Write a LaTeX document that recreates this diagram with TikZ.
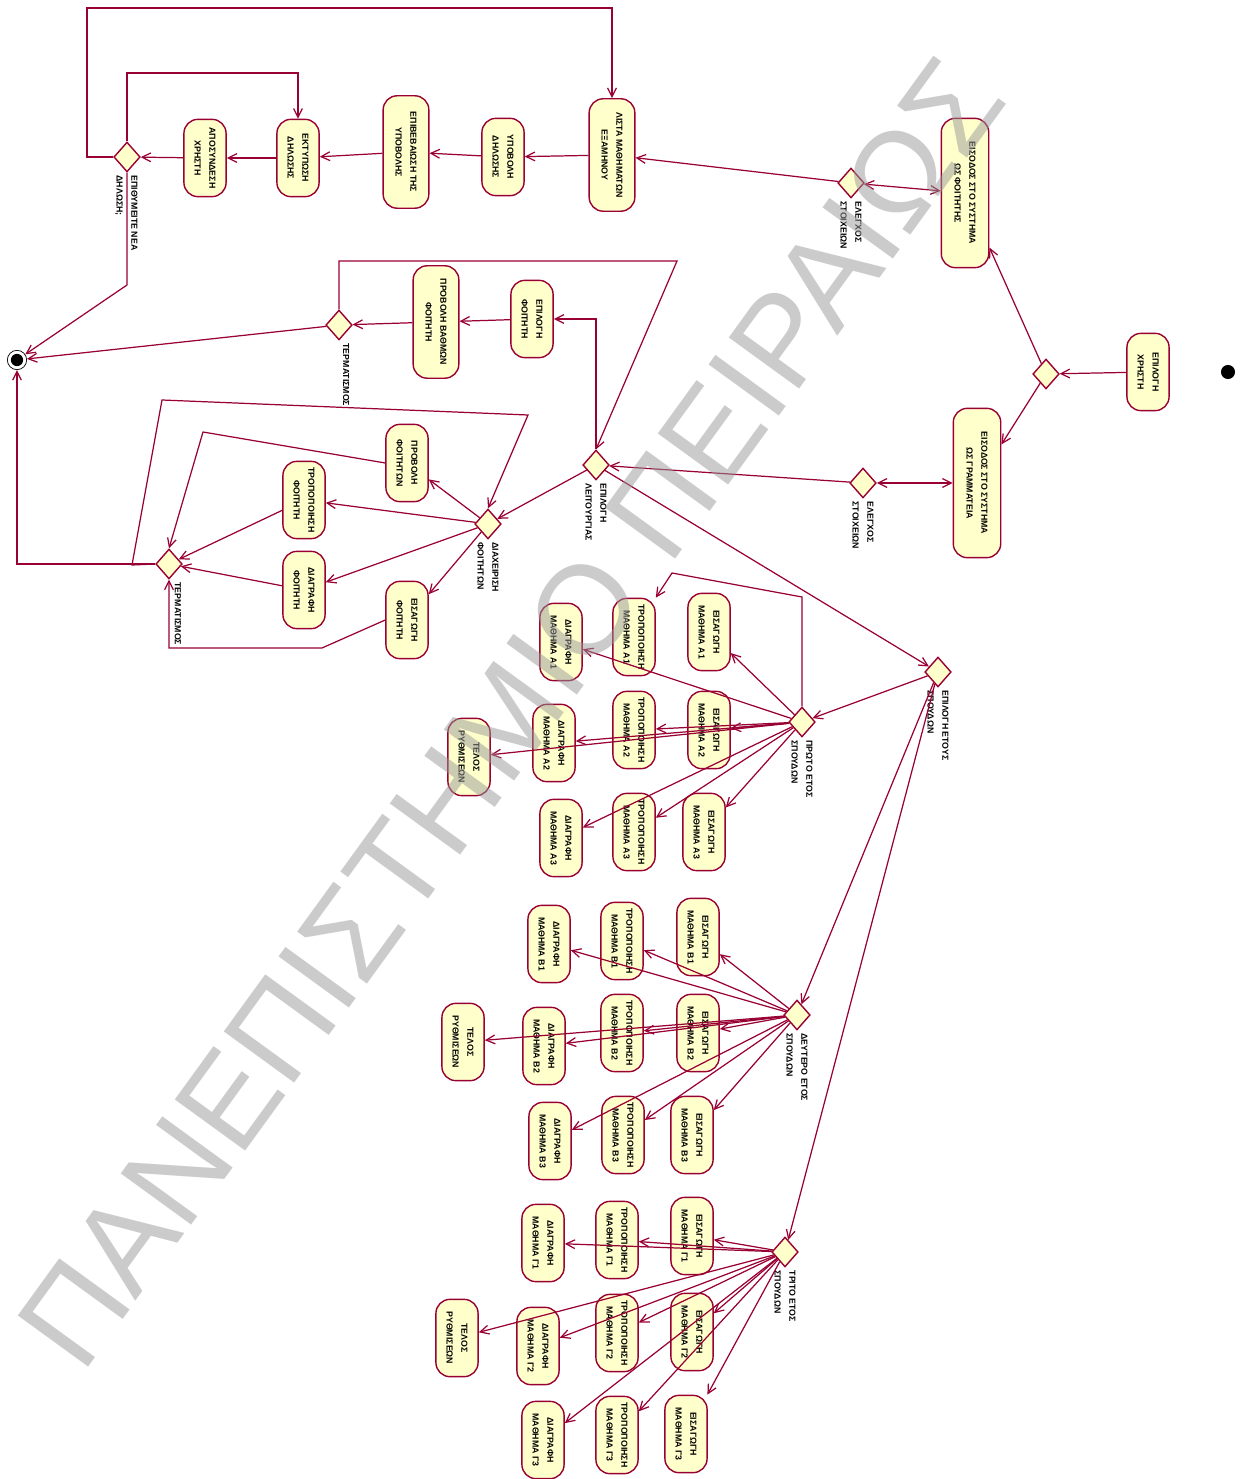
\documentclass[tikz,border=0pt]{standalone}
\usepackage{fontspec}
\setmainfont{Liberation Sans}
\usepackage{graphicx}
\usetikzlibrary{shapes.geometric,arrows.meta,positioning}

\definecolor{rodo}{RGB}{153,0,51}
\definecolor{kitrino}{RGB}{255,255,204}

% κείμενο δύο γραμμών, στραμμένο κατά -90 μοίρες
\newcommand{\vtext}[3][c]{\rotatebox{-90}{\begin{tabular}{@{}#1@{}}#2\\#3\end{tabular}}}
\newcommand{\mia}[1]{\rotatebox{-90}{#1}}

\begin{document}
\begin{tikzpicture}[x=0.02cm, y=-0.02cm, >={Straight Barb[length=5pt,width=5pt]},
    energeia/.style={draw=rodo, fill=kitrino, line width=0.8pt, rounded corners=8pt,
      minimum width=24pt, minimum height=44pt, inner sep=0pt,
      font=\fontsize{5}{8.5}\selectfont\bfseries},
    psili/.style={energeia, minimum width=26pt, minimum height=64pt},
    megali/.style={energeia, minimum width=27pt, minimum height=85pt},
    apofasi/.style={diamond, draw=rodo, fill=kitrino, line width=0.8pt,
      minimum width=15pt, minimum height=17pt, inner sep=0pt},
    etiketa/.style={inner sep=0.5pt, font=\fontsize{5}{8.5}\selectfont\bfseries},
    roi/.style={draw=rodo, line width=0.7pt, ->}]

    \fill[white] (0,0) rectangle (1251,1479);
    \useasboundingbox (0,0) rectangle (1251,1479);

    % 1. Αρχή, τέλος και επιλογή χρήστη
    \node[circle, fill=black, minimum size=8pt, inner sep=0pt] (arxi) at (1228,372) {};
    \node[circle, draw=black, fill=white, minimum size=11pt, inner sep=0pt] (telos) at (17,360) {};
    \node[circle, fill=black, minimum size=7pt, inner sep=0pt] (telos-k) at (telos) {};
    \node[energeia] (xristis) at (1148,372) {\vtext{ΕΠΙΛΟΓΗ}{ΧΡΗΣΤΗ}};
    \node[apofasi] (dxr) at (1046,374) {};
    \node[megali] (eisfoit) at (965,193) {\vtext{ΕΙΣΟΔΟΣ ΣΤΟ ΣΥΣΤΗΜΑ}{ΩΣ ΦΟΙΤΗΤΗΣ}};
    \node[megali] (eiskath) at (977,483) {\vtext{ΕΙΣΟΔΟΣ ΣΤΟ ΣΥΣΤΗΜΑ}{ΩΣ ΓΡΑΜΜΑΤΕΙΑ}};
    \node[apofasi] (dchk1) at (851,183) {};
    \node[etiketa, below=1pt of dchk1] (dchk1-e) {\vtext[l]{ΕΛΕΓΧΟΣ}{ΣΤΟΙΧΕΙΩΝ}};
    \node[apofasi] (dchk2) at (863,483) {};
    \node[etiketa, below=1pt of dchk2] (dchk2-e) {\vtext[l]{ΕΛΕΓΧΟΣ}{ΣΤΟΙΧΕΙΩΝ}};

    % 2. Δήλωση μαθημάτων
    \node[psili] (epilmath) at (612,155) {\vtext{ΛΙΣΤΑ ΜΑΘΗΜΑΤΩΝ}{ΕΞΑΜΗΝΟΥ}};
    \node[energeia] (ypovoli) at (503,157) {\vtext{ΥΠΟΒΟΛΗ}{ΔΗΛΩΣΗΣ}};
    \node[psili] (epivev) at (406,152) {\vtext{ΕΠΙΒΕΒΑΙΩΣΗ ΤΗΣ}{ΥΠΟΒΟΛΗΣ}};
    \node[energeia] (ektyp) at (298,158) {\vtext{ΕΚΤΥΠΩΣΗ}{ΔΗΛΩΣΗΣ}};
    \node[energeia] (aposyn) at (205,158) {\vtext{ΑΠΟΣΥΝΔΕΣΗ}{ΧΡΗΣΤΗ}};
    \node[apofasi] (dnea) at (127,157) {};
    \node[etiketa, below=1pt of dnea] (dnea-e) {\vtext[l]{ΕΠΙΘΥΜΕΙΤΕ ΝΕΑ}{ΔΗΛΩΣΗ;}};

    % 3. Βαθμολογία και διαχείριση φοιτητών
    \node[energeia] (epilfoit) at (532,319) {\vtext{ΕΠΙΛΟΓΗ}{ΦΟΙΤΗΤΗ}};
    \node[psili] (provathm) at (436,322) {\vtext{ΠΡΟΒΟΛΗ ΒΑΘΜΩΝ}{ΦΟΙΤΗΤΗ}};
    \node[apofasi] (dtel1) at (339,325) {};
    \node[etiketa, below=1pt of dtel1, xshift=4pt] (dtel1-e) {\mia{ΤΕΡΜΑΤΙΣΜΟΣ}};
    \node[apofasi] (dleit) at (596,465) {};
    \node[etiketa, below=1pt of dleit] (dleit-e) {\vtext[l]{ΕΠΙΛΟΓΗ}{ΛΕΙΤΟΥΡΓΙΑΣ}};
    \node[apofasi] (dfoit) at (488,524) {};
    \node[etiketa, below=1pt of dfoit] (dfoit-e) {\vtext[l]{ΔΙΑΧΕΙΡΙΣΗ}{ΦΟΙΤΗΤΩΝ}};
    \node[energeia] (provfoit) at (407,463) {\vtext{ΠΡΟΒΟΛΗ}{ΦΟΙΤΗΤΩΝ}};
    \node[energeia] (tropfoit) at (304,500) {\vtext{ΤΡΟΠΟΠΟΙΗΣΗ}{ΦΟΙΤΗΤΗ}};
    \node[energeia] (diagfoit) at (304,590) {\vtext{ΔΙΑΓΡΑΦΗ}{ΦΟΙΤΗΤΗ}};
    \node[energeia] (eisagfoit) at (407,620) {\vtext{ΕΙΣΑΓΩΓΗ}{ΦΟΙΤΗΤΗ}};
    \node[apofasi] (dtel2) at (169,564) {};
    \node[etiketa, below=1pt of dtel2, xshift=5pt] (dtel2-e) {\mia{ΤΕΡΜΑΤΙΣΜΟΣ}};

    % 4. Μαθήματα ανά έτος σπουδών
    \node[apofasi] (detos) at (938,672) {};
    \node[etiketa, below=1pt of detos] (detos-e) {\vtext[l]{ΕΠΙΛΟΓΗ ΕΤΟΥΣ}{ΣΠΟΥΔΩΝ}};
    \node[apofasi] (dA) at (802,722) {};
    \node[etiketa, below=1pt of dA] (dA-e) {\vtext[l]{ΠΡΩΤΟ ΕΤΟΣ}{ΣΠΟΥΔΩΝ}};
    \node[apofasi] (dB) at (797,1015) {};
    \node[etiketa, below=1pt of dB] (dB-e) {\vtext[l]{ΔΕΥΤΕΡΟ ΕΤΟΣ}{ΣΠΟΥΔΩΝ}};
    \node[apofasi] (dC) at (785,1252) {};
    \node[etiketa, below=1pt of dC] (dC-e) {\vtext[l]{ΤΡΙΤΟ ΕΤΟΣ}{ΣΠΟΥΔΩΝ}};

    % πρώτο έτος
    \node[energeia] (aeis1) at (709,632) {\vtext{ΕΙΣΑΓΩΓΗ}{ΜΑΘΗΜΑ Α1}};
    \node[energeia] (atrop1) at (634,637) {\vtext{ΤΡΟΠΟΠΟΙΗΣΗ}{ΜΑΘΗΜΑ Α1}};
    \node[energeia] (adiag1) at (561,642) {\vtext{ΔΙΑΓΡΑΦΗ}{ΜΑΘΗΜΑ Α1}};
    \node[energeia] (aeis2) at (709,730) {\vtext{ΕΙΣΑΓΩΓΗ}{ΜΑΘΗΜΑ Α2}};
    \node[energeia] (atrop2) at (634,730) {\vtext{ΤΡΟΠΟΠΟΙΗΣΗ}{ΜΑΘΗΜΑ Α2}};
    \node[energeia] (adiag2) at (554,743) {\vtext{ΔΙΑΓΡΑΦΗ}{ΜΑΘΗΜΑ Α2}};
    \node[energeia] (alixi) at (469,757) {\vtext{ΤΕΛΟΣ}{ΡΥΘΜΙΣΕΩΝ}};
    \node[energeia] (aeis3) at (704,832) {\vtext{ΕΙΣΑΓΩΓΗ}{ΜΑΘΗΜΑ Α3}};
    \node[energeia] (atrop3) at (634,832) {\vtext{ΤΡΟΠΟΠΟΙΗΣΗ}{ΜΑΘΗΜΑ Α3}};
    \node[energeia] (adiag3) at (561,838) {\vtext{ΔΙΑΓΡΑΦΗ}{ΜΑΘΗΜΑ Α3}};

    % δεύτερο έτος
    \node[energeia] (beis1) at (698,937) {\vtext{ΕΙΣΑΓΩΓΗ}{ΜΑΘΗΜΑ Β1}};
    \node[energeia] (btrop1) at (622,941) {\vtext{ΤΡΟΠΟΠΟΙΗΣΗ}{ΜΑΘΗΜΑ Β1}};
    \node[energeia] (bdiag1) at (549,944) {\vtext{ΔΙΑΓΡΑΦΗ}{ΜΑΘΗΜΑ Β1}};
    \node[energeia] (beis2) at (698,1033) {\vtext{ΕΙΣΑΓΩΓΗ}{ΜΑΘΗΜΑ Β2}};
    \node[energeia] (btrop2) at (622,1033) {\vtext{ΤΡΟΠΟΠΟΙΗΣΗ}{ΜΑΘΗΜΑ Β2}};
    \node[energeia] (bdiag2) at (544,1046) {\vtext{ΔΙΑΓΡΑΦΗ}{ΜΑΘΗΜΑ Β2}};
    \node[energeia] (blixi) at (463,1042) {\vtext{ΤΕΛΟΣ}{ΡΥΘΜΙΣΕΩΝ}};
    \node[energeia] (beis3) at (692,1135) {\vtext{ΕΙΣΑΓΩΓΗ}{ΜΑΘΗΜΑ Β3}};
    \node[energeia] (btrop3) at (623,1135) {\vtext{ΤΡΟΠΟΠΟΙΗΣΗ}{ΜΑΘΗΜΑ Β3}};
    \node[energeia] (bdiag3) at (550,1141) {\vtext{ΔΙΑΓΡΑΦΗ}{ΜΑΘΗΜΑ Β3}};

    % τρίτο έτος
    \node[energeia] (ceis1) at (692,1236) {\vtext{ΕΙΣΑΓΩΓΗ}{ΜΑΘΗΜΑ Γ1}};
    \node[energeia] (ctrop1) at (617,1240) {\vtext{ΤΡΟΠΟΠΟΙΗΣΗ}{ΜΑΘΗΜΑ Γ1}};
    \node[energeia] (cdiag1) at (543,1243) {\vtext{ΔΙΑΓΡΑΦΗ}{ΜΑΘΗΜΑ Γ1}};
    \node[energeia] (ceis2) at (692,1332) {\vtext{ΕΙΣΑΓΩΓΗ}{ΜΑΘΗΜΑ Γ2}};
    \node[energeia] (ctrop2) at (617,1333) {\vtext{ΤΡΟΠΟΠΟΙΗΣΗ}{ΜΑΘΗΜΑ Γ2}};
    \node[energeia] (cdiag2) at (538,1346) {\vtext{ΔΙΑΓΡΑΦΗ}{ΜΑΘΗΜΑ Γ2}};
    \node[energeia] (clixi) at (457,1338) {\vtext{ΤΕΛΟΣ}{ΡΥΘΜΙΣΕΩΝ}};
    \node[energeia] (ceis3) at (686,1434) {\vtext{ΕΙΣΑΓΩΓΗ}{ΜΑΘΗΜΑ Γ3}};
    \node[energeia] (ctrop3) at (617,1435) {\vtext{ΤΡΟΠΟΠΟΙΗΣΗ}{ΜΑΘΗΜΑ Γ3}};
    \node[energeia] (cdiag3) at (543,1440) {\vtext{ΔΙΑΓΡΑΦΗ}{ΜΑΘΗΜΑ Γ3}};

    % 5. Μεταβάσεις
    \draw[roi] (xristis) -- (dxr);
    \draw[roi] (dxr) -- (eisfoit);
    \draw[roi] (dxr) -- (eiskath);
    \draw[roi, <->] (dchk1) -- (eisfoit);
    \draw[roi, <->] (dchk2) -- (eiskath);
    \draw[roi] (dchk1) -- (epilmath);
    \draw[roi] (epilmath) -- (ypovoli);
    \draw[roi] (ypovoli) -- (epivev);
    \draw[roi] (epivev) -- (ektyp);
    \draw[roi] (ektyp) -- (aposyn);
    \draw[roi] (aposyn) -- (dnea);
    \draw[roi] (dnea.north) |- (298,73) -- (ektyp.north);
    \draw[roi] (dnea.west) -| (87,8) -| (epilmath.north);
    \draw[roi] (dnea.south) -- (127,285) -- (telos);

    \draw[roi] (dchk2) -- (dleit);
    \draw[roi] (dleit.north) |- (epilfoit.east);
    \draw[roi] (epilfoit) -- (provathm);
    \draw[roi] (provathm) -- (dtel1);
    \draw[roi] (dtel1.north) |- (677,261) -- (dleit.north);
    \draw[roi] (dtel1) -- (telos);

    \draw[roi] (dleit) -- (dfoit);
    \draw[roi] (dfoit) edge (provfoit) edge (tropfoit) edge (diagfoit) edge (eisagfoit);
    \draw[roi] (tropfoit) -- (dtel2);
    \draw[roi] (diagfoit) -- (dtel2);
    \draw[roi] (provfoit.west) -- (203,432) -- (dtel2.north);
    \draw[roi] (eisagfoit.west) -- (322,648) -| (dtel2.south);
    \draw[roi] (dtel2.west) -| (telos.south);
    \draw[roi] (dtel2.west) -- (132,565) -- (162,400) -- (528,415) -- (dfoit.north);

    \draw[roi] (dleit) -- (detos);
    \draw[roi] (detos) edge (dA) edge (dB) edge (dC);
    \draw[roi] (dA.north) -- (802,597) -- (672,573) -- (atrop1.north east);
    \draw[roi] (dA) edge (aeis1) edge (adiag1) edge (aeis2) edge (atrop2) edge (adiag2)
        edge (alixi) edge (aeis3) edge (atrop3) edge (adiag3);
    \draw[roi] (dB) edge (beis1) edge (btrop1) edge (bdiag1) edge (beis2) edge (btrop2)
        edge (bdiag2) edge (blixi) edge (beis3) edge (btrop3) edge (bdiag3);
    \draw[roi] (dC) edge (ceis1) edge (ctrop1) edge (cdiag1) edge (ceis2) edge (ctrop2)
        edge (cdiag2) edge (clixi) edge (ceis3) edge (ctrop3) edge (cdiag3);

    % 6. Υδατογράφημα
    \node[rotate=54, anchor=base west, inner sep=0pt, text=black!40, opacity=0.5,
        font=\fontsize{72}{80}\selectfont] (ydatog) at (82,1376) {ΠΑΝΕΠΙΣΤΗΜΙΟ ΠΕΙΡΑΙΩΣ};

\end{tikzpicture}
\end{document}
